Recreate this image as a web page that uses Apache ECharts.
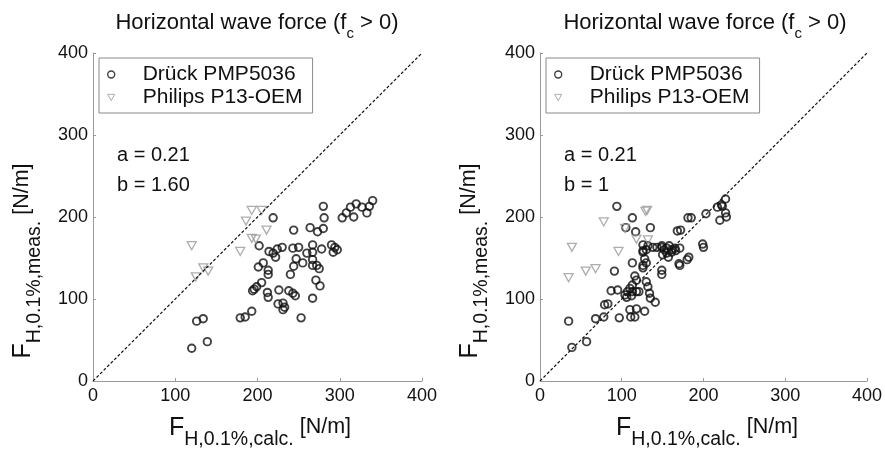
<!DOCTYPE html>
<html>
<head>
<meta charset="utf-8">
<script src="https://cdn.jsdelivr.net/npm/echarts@6/dist/echarts.min.js"></script>
<style>
  html, body { margin: 0; padding: 0; background: #fff; }
  #chart { width: 885px; height: 451px; }
</style>
</head>
<body>
<div id="chart"></div>
<script>
// axis ticks (both panels)
const ticks = [0, 100, 200, 300, 400]
const seriesNames = ["Drück PMP5036", "Philips P13-OEM"]
const titleText = ["Horizontal wave force (f", "c", " > 0)"]
const xLabel = ["F", "H,0.1%,calc.", " [N/m]"]
const yLabel = ["F", "H,0.1%,meas.", " [N/m]"]
const coeffA = ["0.21", "0.21"]
const coeffB = ["1.60", "1"]

// left panel [calc, meas]
const leftDruck = [
  [120, 40], [139, 48], [126, 73], [134, 76], [179, 77], [185, 78], [193, 85],
  [196, 112], [199, 115], [194, 110], [205, 120], [201, 139], [207, 144], [202, 165],
  [212, 108], [213, 102], [213, 130], [213, 135], [219, 199],
  [214, 158], [219, 156], [224, 161], [230, 163], [222, 151],
  [226, 111], [238, 110], [243, 107], [246, 104],
  [225, 94], [231, 95], [233, 90], [231, 87], [253, 77],
  [240, 130], [244, 184],
  [243, 162], [250, 163], [260, 156], [267, 166], [267, 157], [278, 161],
  [247, 149], [255, 144], [244, 140], [267, 148], [267, 141], [272, 141], [275, 137],
  [267, 101], [271, 123], [276, 116],
  [264, 187], [273, 182], [280, 186], [280, 213], [281, 199],
  [290, 166], [294, 163], [297, 160], [292, 157],
  [303, 199], [308, 205], [313, 212], [320, 216], [317, 200],
  [327, 212], [333, 205], [340, 220], [336, 213]
]
const leftPhilips = [
  [120, 165], [125, 127], [134, 138], [140, 134], [179, 158], [186, 195],
  [193, 208], [205, 208], [193, 174], [198, 173], [211, 184]
]

// right panel
const rightDruck = [
  [39, 41], [57, 48], [35, 73], [68, 76], [78, 78], [79, 93], [83, 94], [87, 110], [95, 111],
  [91, 134], [94, 213], [97, 77], [110, 87], [111, 78], [116, 78], [118, 88], [128, 85],
  [106, 102], [112, 104], [104, 105], [107, 109], [113, 109], [118, 109], [121, 109],
  [110, 113], [113, 117], [118, 123], [116, 128],
  [130, 121], [132, 115], [134, 107], [135, 101], [141, 96],
  [113, 144], [126, 141], [126, 138], [128, 149], [130, 144], [149, 135], [149, 130],
  [126, 157], [126, 159], [130, 160], [126, 166], [132, 165], [138, 163], [143, 163],
  [149, 163], [149, 165], [152, 160], [155, 162], [158, 165], [161, 160], [166, 159],
  [155, 156], [161, 157], [165, 162], [171, 162], [157, 151], [150, 154],
  [113, 199], [105, 187], [117, 182], [135, 187], [168, 183], [172, 184],
  [170, 143], [171, 141], [180, 148], [182, 151],
  [181, 199], [185, 199], [199, 167], [200, 163], [203, 204],
  [217, 212], [222, 215], [227, 222], [223, 213], [227, 205], [220, 196], [228, 200]
]
const rightPhilips = [
  [35, 126], [39, 163], [56, 134], [68, 137], [78, 194], [96, 158], [104, 186],
  [118, 173], [129, 207], [131, 208], [132, 172]
]
const diagonal = [[0, 0], [400, 400]]

const FONT = "'Liberation Sans', Arial, sans-serif"
const INK = "#111"

const chart = echarts.init(document.getElementById("chart"))

const axisBase = (gridIndex, margin) => ({
  gridIndex,
  type: "value",
  min: ticks[0],
  max: ticks[ticks.length - 1],
  interval: ticks[1] - ticks[0],
  axisLine: { show: true, lineStyle: { color: "#9a9a9a", width: 1 } },
  axisTick: { show: true, inside: true, length: 3, lineStyle: { color: "#9a9a9a" } },
  splitLine: { show: false },
  axisLabel: { color: INK, fontSize: 18, fontFamily: FONT, margin },
})

const scatter = (idx, name, data) => {
  const druck = name === seriesNames[0]
  return {
    type: "scatter",
    name,
    xAxisIndex: idx,
    yAxisIndex: idx,
    data,
    symbol: druck ? "circle" : "triangle",
    symbolRotate: druck ? 0 : 180,
    symbolSize: druck ? 7.5 : [9, 8],
    itemStyle: {
      color: "rgba(0,0,0,0)",
      borderColor: druck ? "#111" : "#999",
      borderWidth: druck ? 1.9 : 1.3,
    },
    emphasis: { disabled: true },
  }
}

const diag = (idx) => ({
  type: "line",
  xAxisIndex: idx,
  yAxisIndex: idx,
  data: diagonal,
  symbol: "none",
  silent: true,
  lineStyle: { color: INK, width: 1.2, type: [3, 2] },
})

const legend = (left) => ({
  left,
  top: 58,
  orient: "vertical",
  selectedMode: false,
  padding: [5, 10, 4, 8],
  itemGap: 0,
  itemWidth: 7,
  itemHeight: 7,
  borderColor: "#8a8a8a",
  borderWidth: 1,
  backgroundColor: "#fff",
  formatter: (n) => "{g| }" + n,
  textStyle: { fontSize: 21, fontFamily: FONT, color: INK, lineHeight: 23, rich: { g: { width: 23 } } },
  data: [
    { name: seriesNames[0], icon: "circle", itemStyle: { color: "#fff", borderColor: INK, borderWidth: 1.4 } },
    { name: seriesNames[1], icon: "path://M0,0L10,0L5,9Z", itemStyle: { color: "#fff", borderColor: "#999", borderWidth: 1 } },
  ],
})

// title / axis names with subscripts
const titleEl = (cx) => ({
  type: "text",
  x: cx,
  y: 11.5,
  style: {
    text: "{t|" + titleText[0] + "}{s|" + titleText[1] + "}{t|" + titleText[2] + "}",
    align: "center",
    verticalAlign: "top",
    rich: {
      t: { fontSize: 22, lineHeight: 24, verticalAlign: "top", fontFamily: FONT, fill: INK },
      s: { fontSize: 15, lineHeight: 44, verticalAlign: "middle", fontFamily: FONT, fill: INK },
    },
  },
})

const nameRich = {
  f: { fontSize: 25, lineHeight: 24, verticalAlign: "top", fontFamily: FONT, fill: INK },
  s: { fontSize: 19.5, lineHeight: 47, verticalAlign: "middle", fontFamily: FONT, fill: INK },
  u: { fontSize: 21.5, lineHeight: 22, verticalAlign: "top", fontFamily: FONT, fill: INK },
}
const nameText = (parts) => "{f|" + parts[0] + "}{s|" + parts[1] + "}{u|" + parts[2] + "}"

const xName = (cx) => ({
  type: "text",
  x: cx,
  y: 416,
  style: { text: nameText(xLabel), align: "center", verticalAlign: "top", rich: nameRich },
})
const yName = (x) => ({
  type: "text",
  x,
  y: 261,
  rotation: Math.PI / 2,
  style: { text: nameText(yLabel), align: "center", verticalAlign: "top", rich: nameRich },
})
const coeff = (x, y, txt) => ({
  type: "text",
  x,
  y,
  style: { text: txt, fontSize: 20, fontFamily: FONT, fill: INK, verticalAlign: "middle" },
})

const option = {
  animation: false,
  backgroundColor: "#fff",
  grid: [
    { left: 93, top: 53, width: 329, height: 328 },
    { left: 540, top: 53, width: 328, height: 328 },
  ],
  xAxis: [axisBase(0, 6), axisBase(1, 6)],
  yAxis: [axisBase(0, 5), axisBase(1, 5)],
  legend: [legend(99), legend(546)],
  series: [
    scatter(0, seriesNames[0], leftDruck),
    scatter(0, seriesNames[1], leftPhilips),
    diag(0),
    scatter(1, seriesNames[0], rightDruck),
    scatter(1, seriesNames[1], rightPhilips),
    diag(1),
  ],
  graphic: [
    titleEl(257), titleEl(705),
    xName(260), xName(707),
    yName(11), yName(458),
    coeff(117, 155, "a = " + coeffA[0]), coeff(117, 185, "b = " + coeffB[0]),
    coeff(564, 155, "a = " + coeffA[1]), coeff(564, 185, "b = " + coeffB[1]),
  ],
}
chart.setOption(option)
</script>
</body>
</html>
